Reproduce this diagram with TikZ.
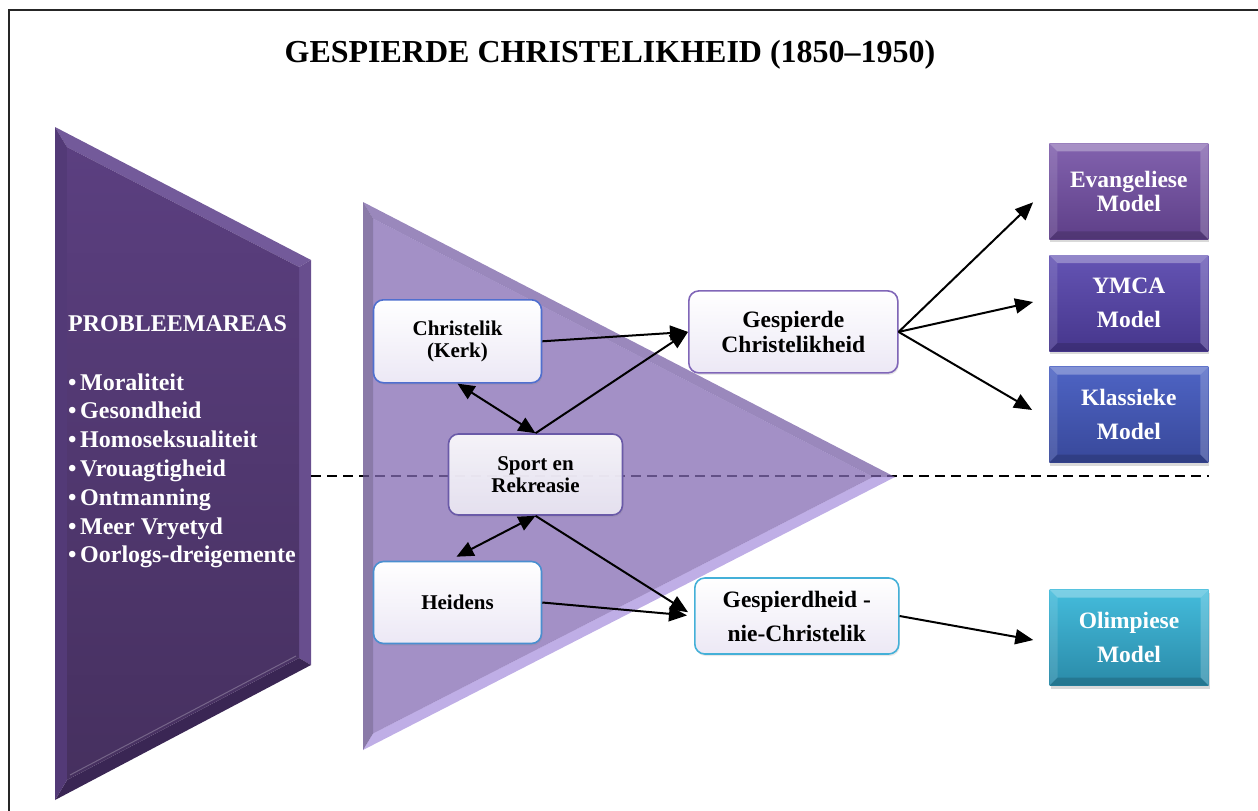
\documentclass[tikz,border=0pt]{standalone}
\usepackage{fontspec}
\setmainfont{Liberation Serif}
\usetikzlibrary{arrows.meta,calc,shadows}

% panel colours
\definecolor{lfTop}{HTML}{5B3F80}
\definecolor{lfBot}{HTML}{46305F}
\definecolor{lfFacetT}{HTML}{735A9A}
\definecolor{lfFacetR}{HTML}{684E8E}
\definecolor{lfFacetB}{HTML}{3A2654}
\definecolor{lfFacetL}{HTML}{533A77}
% funnel colours (used with fill opacity .75)
\definecolor{fnBody}{HTML}{846BB3}
\definecolor{fnTop}{HTML}{7860A6}
\definecolor{fnBot}{HTML}{AA93DE}
\definecolor{fnLeft}{HTML}{634E8B}
% light box borders
\definecolor{ckc}{HTML}{4F6FCF}
\definecolor{src}{HTML}{6A5AA8}
\definecolor{hdc}{HTML}{4A8FD0}
\definecolor{gcc}{HTML}{8066B8}
\definecolor{gnc}{HTML}{44B0D8}
\definecolor{boxlow}{HTML}{ECE8F5}
% model box colours
\definecolor{evT}{HTML}{8262AE}
\definecolor{evB}{HTML}{5E3F88}
\definecolor{ymT}{HTML}{6454B4}
\definecolor{ymB}{HTML}{46368C}
\definecolor{klT}{HTML}{4E64C4}
\definecolor{klB}{HTML}{38489A}
\definecolor{olT}{HTML}{44BCDC}
\definecolor{olB}{HTML}{2A8AA8}

\tikzset{
  softbox/.style={draw, line width=1.6pt, rounded corners=10pt,
    top color=white, bottom color=boxlow, align=center, inner sep=0pt,
    drop shadow={opacity=0.18, shadow xshift=1pt, shadow yshift=-2pt}},
  smalltxt/.style={font=\bfseries\fontsize{21}{22.5}\selectfont},
  bevel/.style={path picture={
    \path (path picture bounding box.north west) coordinate (p1)
          (path picture bounding box.north east) coordinate (p2)
          (path picture bounding box.south east) coordinate (p3)
          (path picture bounding box.south west) coordinate (p4);
    \fill[white,opacity=.30] (p1) -- (p2) -- ($(p2)+(-8,8)$) -- ($(p1)+(8,8)$) -- cycle;
    \fill[white,opacity=.12] (p1) -- ($(p1)+(8,8)$) -- ($(p4)+(8,-8)$) -- (p4) -- cycle;
    \fill[black,opacity=.15] (p4) -- ($(p4)+(8,-8)$) -- ($(p3)+(-8,-8)$) -- (p3) -- cycle;
    \fill[white,opacity=.20] (p2) -- (p3) -- ($(p3)+(-8,-8)$) -- ($(p2)+(-8,8)$) -- cycle;
  }},
  modelbox/.style={minimum width=159pt, minimum height=96pt, inner sep=0pt,
    text=white, align=center, bevel,
    drop shadow={opacity=0.3, shadow xshift=1pt, shadow yshift=-3pt}},
  arr/.style={line width=2pt, -{Triangle[length=18pt,width=15pt]}},
  darr/.style={line width=2pt, {Triangle[length=17pt,width=15pt]}-{Triangle[length=17pt,width=15pt]}},
  listitem/.style={anchor=base west, inner sep=0pt, text=white,
    font=\bfseries\fontsize{24}{28}\selectfont}
}

\begin{document}
\begin{tikzpicture}[x=1pt,y=-1pt]
\useasboundingbox (0,0) rectangle (1258,811);

% page frame
\draw[line width=2.2pt, black!85] (9,811) -- (9,10) -- (1258,10);

% title
\node[font=\bfseries\fontsize{32}{36}\selectfont] (title) at (610,55) {GESPIERDE CHRISTELIKHEID (1850–1950)};

% left bevelled panel
\fill[lfFacetT] (55,127) -- (311,260) -- (299,267) -- (67,147) -- cycle;
\fill[lfFacetR] (311,260) -- (311,665) -- (299,658) -- (299,267) -- cycle;
\fill[lfFacetB] (311,665) -- (55,800) -- (67,780) -- (299,658) -- cycle;
\fill[lfFacetL] (55,127) -- (67,147) -- (67,780) -- (55,800) -- cycle;
\shade[top color=lfTop, bottom color=lfBot] (67,147) -- (299,267) -- (299,658) -- (67,780) -- cycle;
\draw[white, opacity=.25, line width=1pt] (70,775) -- (296,656);

\node[listitem] (probl) at (68,331) {PROBLEEMAREAS};
\foreach \t [count=\i] in {Moraliteit,Gesondheid,Homoseksualiteit,Vrouagtigheid,Ontmanning,Meer Vryetyd,Oorlogs-dreigemente}
  \node[listitem] (item\i) at (68,{390+28.8*(\i-1)}) {\makebox[12pt][l]{\textbullet}\t};

% dividing line
\draw[line width=2pt, dash pattern=on 10pt off 6pt] (311,476) -- (1209,476);

% funnel (translucent, so the dividing line shows through)
\begin{scope}[fill opacity=.75]
\fill[fnTop] (363,202) -- (895,477) -- (873,477) -- (373,218.5) -- cycle;
\fill[fnBot] (363,750) -- (895,477) -- (873,477) -- (373,733.5) -- cycle;
\fill[fnLeft] (363,202) -- (373,218.5) -- (373,733.5) -- (363,750) -- cycle;
\fill[fnBody] (373,218.5) -- (873,477) -- (373,733.5) -- cycle;
\end{scope}

% central boxes
\node[softbox, smalltxt, draw=ckc, minimum width=168pt, minimum height=83pt] (ck) at (457.5,341.3) {Christelik\\(Kerk)};
\node[softbox, smalltxt, draw=src, fill opacity=.9, text opacity=1, minimum width=174pt, minimum height=81pt] (sr) at (535.5,474.5) {Sport en\\Rekreasie};
\node[softbox, smalltxt, draw=hdc, minimum width=168pt, minimum height=82pt] (hd) at (457.5,602.5) {Heidens};
\node[softbox, draw=gcc, font=\bfseries\fontsize{23.5}{25}\selectfont, minimum width=209pt, minimum height=82pt] (gc) at (793.3,331.9) {Gespierde\\Christelikheid};
\node[softbox, draw=gnc, font=\bfseries\fontsize{23.5}{34}\selectfont, minimum width=204pt, minimum height=76pt] (gn) at (796.8,616) {Gespierdheid -\\nie-Christelik};

% model boxes
\node[modelbox, top color=evT, bottom color=evB, font=\bfseries\fontsize{23.5}{24.4}\selectfont] (ev) at (1128.8,191.3) {Evangeliese\\Model};
\node[modelbox, top color=ymT, bottom color=ymB, font=\bfseries\fontsize{23.5}{34.6}\selectfont] (ym) at (1128.8,303) {YMCA\\Model};
\node[modelbox, top color=klT, bottom color=klB, font=\bfseries\fontsize{23.5}{33.3}\selectfont] (kl) at (1128.8,414.5) {Klassieke\\Model};
\node[modelbox, top color=olT, bottom color=olB, font=\bfseries\fontsize{23.5}{33.7}\selectfont] (ol) at (1129,637.5) {Olimpiese\\Model};

% connectors
\draw[arr] (ck.east) -- (gc.west);
\draw[arr] (sr.north) -- (gc.west);
\draw[darr] (ck.south) -- (sr.north);
\draw[darr] (sr.south) -- ($(hd.north)+(-1,-4)$);
\draw[arr, shorten >=7pt] (sr.south) -- (gn.west);
\draw[arr, shorten >=7pt] (hd.east) -- (gn.west);
\draw[arr] (gc.east) -- ($(ev.west)+(-16,11)$);
\draw[arr] (gc.east) -- ($(ym.west)+(-16,-1)$);
\draw[arr] (gc.east) -- ($(kl.west)+(-17,-4.5)$);
\draw[arr] (gn.east) -- ($(ol.west)+(-16,2.5)$);
\end{tikzpicture}
\end{document}
